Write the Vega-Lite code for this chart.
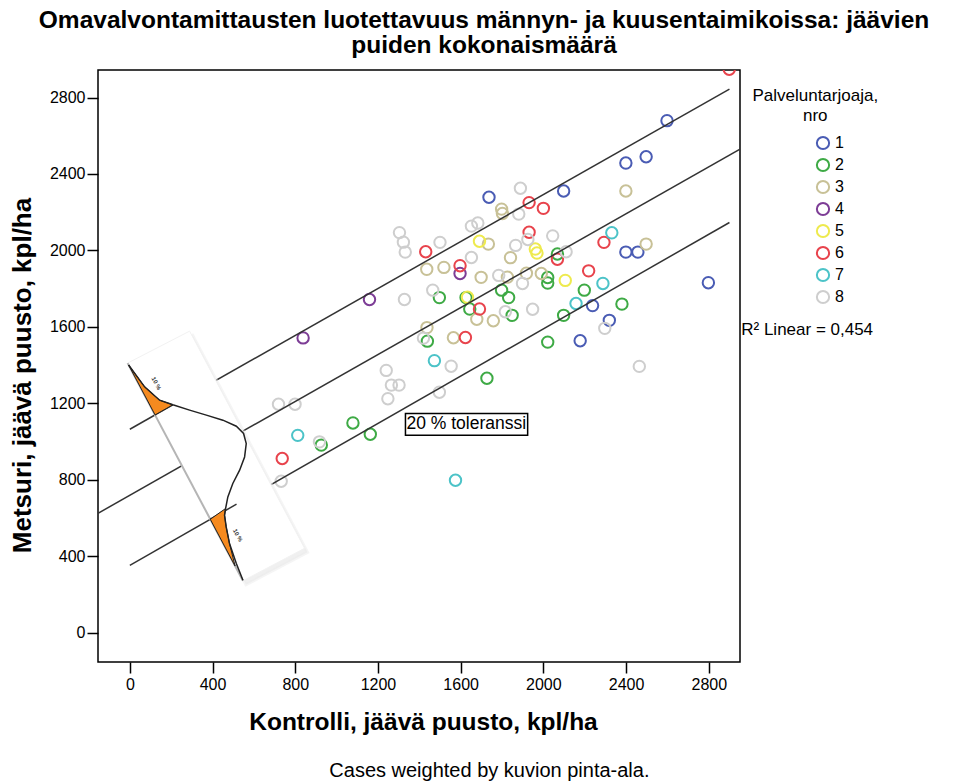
{
  "$schema": "https://vega.github.io/schema/vega-lite/v6.json",
  "width": 642,
  "height": 592,
  "autosize": {"type": "none"},
  "padding": {"left": 98, "top": 70, "right": 223, "bottom": 120},
  "background": "white",
  "config": {
    "font": "Liberation Sans",
    "view": {"stroke": "black", "strokeWidth": 1.5},
    "axis": {
      "grid": false, "domain": false,
      "tickColor": "black", "tickWidth": 1.5,
      "labelColor": "black", "labelFont": "Liberation Sans", "labelFontSize": 16,
      "titleFont": "Liberation Sans", "titleFontWeight": "bold", "titleColor": "black"
    }
  },
  "title": {
    "text": ["Omavalvontamittausten luotettavuus männyn- ja kuusentaimikoissa: jäävien", "puiden kokonaismäärä"],
    "font": "Liberation Sans", "fontSize": 24.5, "fontWeight": "bold", "color": "black",
    "anchor": "middle", "dx": 65, "offset": 12, "lineHeight": 25
  },
  "datasets": {
    "points": [
      {"x": 2598, "y": 2679, "nro": 1}, {"x": 2399, "y": 2457, "nro": 1}, {"x": 2497, "y": 2490, "nro": 1},
      {"x": 2098, "y": 2311, "nro": 1}, {"x": 1737, "y": 2278, "nro": 1}, {"x": 2399, "y": 1991, "nro": 1},
      {"x": 2457, "y": 1991, "nro": 1}, {"x": 2798, "y": 1831, "nro": 1}, {"x": 2238, "y": 1711, "nro": 1},
      {"x": 2319, "y": 1634, "nro": 1}, {"x": 2178, "y": 1527, "nro": 1},
      {"x": 2068, "y": 1981, "nro": 2}, {"x": 2021, "y": 1858, "nro": 2}, {"x": 2021, "y": 1829, "nro": 2},
      {"x": 2198, "y": 1792, "nro": 2}, {"x": 1497, "y": 1753, "nro": 2}, {"x": 1626, "y": 1753, "nro": 2},
      {"x": 1798, "y": 1792, "nro": 2}, {"x": 1832, "y": 1753, "nro": 2}, {"x": 1644, "y": 1693, "nro": 2},
      {"x": 1849, "y": 1660, "nro": 2}, {"x": 2098, "y": 1660, "nro": 2}, {"x": 2380, "y": 1719, "nro": 2},
      {"x": 2021, "y": 1520, "nro": 2}, {"x": 1727, "y": 1331, "nro": 2}, {"x": 1439, "y": 1525, "nro": 2},
      {"x": 1079, "y": 1097, "nro": 2}, {"x": 1163, "y": 1038, "nro": 2}, {"x": 926, "y": 981, "nro": 2},
      {"x": 2399, "y": 2311, "nro": 3}, {"x": 1798, "y": 2216, "nro": 3}, {"x": 1802, "y": 2193, "nro": 3},
      {"x": 1734, "y": 2033, "nro": 3}, {"x": 2497, "y": 2033, "nro": 3}, {"x": 1841, "y": 1962, "nro": 3},
      {"x": 1436, "y": 1901, "nro": 3}, {"x": 1519, "y": 1911, "nro": 3}, {"x": 1699, "y": 1859, "nro": 3},
      {"x": 1826, "y": 1860, "nro": 3}, {"x": 1918, "y": 1880, "nro": 3}, {"x": 1990, "y": 1879, "nro": 3},
      {"x": 1678, "y": 1640, "nro": 3}, {"x": 1758, "y": 1632, "nro": 3}, {"x": 1565, "y": 1543, "nro": 3},
      {"x": 1437, "y": 1596, "nro": 3},
      {"x": 1597, "y": 1879, "nro": 4}, {"x": 1159, "y": 1743, "nro": 4}, {"x": 838, "y": 1542, "nro": 4},
      {"x": 1691, "y": 2048, "nro": 5}, {"x": 1961, "y": 2007, "nro": 5}, {"x": 1969, "y": 1986, "nro": 5},
      {"x": 2106, "y": 1843, "nro": 5}, {"x": 1633, "y": 1755, "nro": 5},
      {"x": 2899, "y": 2948, "nro": 6}, {"x": 1931, "y": 2250, "nro": 6}, {"x": 2000, "y": 2220, "nro": 6},
      {"x": 1431, "y": 1993, "nro": 6}, {"x": 1931, "y": 2095, "nro": 6}, {"x": 2293, "y": 2042, "nro": 6},
      {"x": 2068, "y": 1954, "nro": 6}, {"x": 1597, "y": 1920, "nro": 6}, {"x": 2219, "y": 1893, "nro": 6},
      {"x": 1691, "y": 1693, "nro": 6}, {"x": 1623, "y": 1544, "nro": 6}, {"x": 737, "y": 911, "nro": 6},
      {"x": 2331, "y": 2092, "nro": 7}, {"x": 2288, "y": 1827, "nro": 7}, {"x": 2158, "y": 1722, "nro": 7},
      {"x": 1473, "y": 1423, "nro": 7}, {"x": 812, "y": 1032, "nro": 7}, {"x": 1575, "y": 797, "nro": 7},
      {"x": 1889, "y": 2325, "nro": 8}, {"x": 1881, "y": 2190, "nro": 8}, {"x": 1652, "y": 2127, "nro": 8},
      {"x": 1683, "y": 2143, "nro": 8}, {"x": 1304, "y": 2093, "nro": 8}, {"x": 1323, "y": 2043, "nro": 8},
      {"x": 1332, "y": 1991, "nro": 8}, {"x": 1500, "y": 2042, "nro": 8}, {"x": 2045, "y": 2076, "nro": 8},
      {"x": 1866, "y": 2026, "nro": 8}, {"x": 1925, "y": 2057, "nro": 8}, {"x": 2110, "y": 1993, "nro": 8},
      {"x": 1652, "y": 1963, "nro": 8}, {"x": 1784, "y": 1869, "nro": 8}, {"x": 1899, "y": 1827, "nro": 8},
      {"x": 1328, "y": 1743, "nro": 8}, {"x": 1465, "y": 1792, "nro": 8}, {"x": 1816, "y": 1679, "nro": 8},
      {"x": 1948, "y": 1692, "nro": 8}, {"x": 2297, "y": 1592, "nro": 8}, {"x": 1554, "y": 1394, "nro": 8},
      {"x": 1240, "y": 1372, "nro": 8}, {"x": 1265, "y": 1295, "nro": 8}, {"x": 1302, "y": 1295, "nro": 8},
      {"x": 1248, "y": 1224, "nro": 8}, {"x": 1497, "y": 1258, "nro": 8}, {"x": 719, "y": 1195, "nro": 8},
      {"x": 799, "y": 1195, "nro": 8}, {"x": 917, "y": 998, "nro": 8}, {"x": 732, "y": 792, "nro": 8},
      {"x": 2464, "y": 1393, "nro": 8}, {"x": 1420, "y": 1541, "nro": 8}
    ],
    "lines": [
      {"line": "upper", "x": 0, "y": 1064}, {"line": "upper", "x": 2900, "y": 2844},
      {"line": "fit", "x": -154, "y": 624}, {"line": "fit", "x": 2951, "y": 2530},
      {"line": "lower", "x": 0, "y": 352}, {"line": "lower", "x": 2900, "y": 2146}
    ],
    "shadow": [
      {"i": 0, "x": 3.5, "y": 1389}, {"i": 1, "x": 303.5, "y": 1556.5}, {"i": 2, "x": 859.5, "y": 420},
      {"i": 3, "x": 561.5, "y": 250}, {"i": 4, "x": 3.5, "y": 1389}
    ],
    "panel": [
      {"i": 0, "x": -11, "y": 1410}, {"i": 1, "x": 289, "y": 1577.5}, {"i": 2, "x": 845, "y": 441},
      {"i": 3, "x": 547, "y": 271}, {"i": 4, "x": -11, "y": 1410}
    ],
    "stubs": [
      {"seg": "upper", "x": 122, "y": 1139}, {"seg": "upper", "x": 208, "y": 1192},
      {"seg": "lower", "x": 389, "y": 593}, {"seg": "lower", "x": 516, "y": 672}
    ],
    "densityAxis": [{"x": -11, "y": 1410}, {"x": 547, "y": 271}],
    "tails": [
      {"tail": "top", "i": 0, "x": -6, "y": 1400}, {"tail": "top", "i": 1, "x": 71.5, "y": 1286},
      {"tail": "top", "i": 2, "x": 144, "y": 1216}, {"tail": "top", "i": 3, "x": 208, "y": 1192},
      {"tail": "top", "i": 4, "x": 122, "y": 1139}, {"tail": "top", "i": 5, "x": -6, "y": 1400},
      {"tail": "bottom", "i": 0, "x": 389, "y": 593}, {"tail": "bottom", "i": 1, "x": 463, "y": 649},
      {"tail": "bottom", "i": 2, "x": 458, "y": 614}, {"tail": "bottom", "i": 3, "x": 466, "y": 553},
      {"tail": "bottom", "i": 4, "x": 482, "y": 466}, {"tail": "bottom", "i": 5, "x": 509, "y": 348},
      {"tail": "bottom", "i": 6, "x": 389, "y": 593}
    ],
    "curve": [
      {"i": 0, "x": -6, "y": 1400}, {"i": 1, "x": 71.5, "y": 1286}, {"i": 2, "x": 144, "y": 1216},
      {"i": 3, "x": 208, "y": 1192}, {"i": 4, "x": 289, "y": 1164}, {"i": 5, "x": 370, "y": 1138},
      {"i": 6, "x": 450, "y": 1111.5}, {"i": 7, "x": 515, "y": 1080}, {"i": 8, "x": 550, "y": 1042},
      {"i": 9, "x": 563, "y": 989.5}, {"i": 10, "x": 555, "y": 919}, {"i": 11, "x": 531, "y": 850},
      {"i": 12, "x": 498, "y": 780}, {"i": 13, "x": 474, "y": 710}, {"i": 14, "x": 463, "y": 649},
      {"i": 15, "x": 458, "y": 614}, {"i": 16, "x": 466, "y": 553}, {"i": 17, "x": 482, "y": 466},
      {"i": 18, "x": 515, "y": 361}, {"i": 19, "x": 547, "y": 274}
    ],
    "tailLabels": [{"x": 128, "y": 1304, "label": "10 %"}, {"x": 522, "y": 509, "label": "10 %"}],
    "box": [{"x": 1333, "x2": 1924, "y": 1033, "y2": 1147}],
    "boxLabel": [{"x": 1338, "y": 1090, "label": "20 % toleranssi"}],
    "legendTitle": [{"x": 3315, "y": 2808, "label": "Palveluntarjoaja,"}, {"x": 3315, "y": 2703, "label": "nro"}],
    "fitNote": [{"x": 2957, "y": 1583, "label": "R² Linear = 0,454"}],
    "footer": [{"x": 1739, "y": -726, "label": "Cases weighted by kuvion pinta-ala."}]
  },
  "encoding": {
    "x": {
      "field": "x", "type": "quantitative",
      "scale": {"domain": [-154, 2951], "nice": false, "zero": false},
      "axis": {
        "values": [0, 400, 800, 1200, 1600, 2000, 2400, 2800], "format": "d",
        "title": "Kontrolli, jäävä puusto, kpl/ha", "titleFontSize": 24.5,
        "tickSize": 11, "labelPadding": 3,
        "titleX": 325, "titleY": 60, "titleAlign": "center", "titleBaseline": "middle"
      }
    },
    "y": {
      "field": "y", "type": "quantitative",
      "scale": {"domain": [-154, 2944], "nice": false, "zero": false},
      "axis": {
        "values": [0, 400, 800, 1200, 1600, 2000, 2400, 2800], "format": "d",
        "title": "Metsuri, jäävä puusto, kpl/ha", "titleFontSize": 26,
        "tickSize": 11, "labelPadding": 2,
        "titleX": -76, "titleY": 305, "titleAngle": -90, "titleAlign": "center", "titleBaseline": "middle"
      }
    }
  },
  "layer": [
    {
      "data": {"name": "points"},
      "mark": {"type": "point", "shape": "circle", "filled": false, "size": 130, "strokeWidth": 2, "opacity": 1, "clip": true},
      "encoding": {
        "color": {
          "field": "nro", "type": "nominal",
          "scale": {"domain": [1, 2, 3, 4, 5, 6, 7, 8], "range": ["#4a5cb4", "#3eaa45", "#c8c197", "#7d3d96", "#eeea4e", "#e8434c", "#4cc3c8", "#cecece"]},
          "legend": {
            "title": null, "orient": "none", "legendX": 717, "legendY": 65,
            "symbolType": "circle", "symbolSize": 150, "symbolStrokeWidth": 2,
            "labelFont": "Liberation Sans", "labelFontSize": 16, "labelColor": "black",
            "rowPadding": 0, "labelOffset": 4
          }
        }
      }
    },
    {
      "data": {"name": "lines"},
      "mark": {"type": "line", "color": "#333333", "strokeWidth": 1.5, "clip": true},
      "encoding": {"detail": {"field": "line"}}
    },
    {
      "data": {"name": "shadow"},
      "mark": {"type": "line", "fill": "#e6e6e6", "fillOpacity": 0.6, "stroke": "#ececec", "strokeWidth": 3, "strokeOpacity": 0.5},
      "encoding": {"order": {"field": "i", "type": "quantitative"}}
    },
    {
      "data": {"name": "panel"},
      "mark": {"type": "line", "fill": "white", "stroke": "#f2f2f2", "strokeWidth": 1},
      "encoding": {"order": {"field": "i", "type": "quantitative"}}
    },
    {
      "data": {"name": "densityAxis"},
      "mark": {"type": "line", "color": "#b5b5b5", "strokeWidth": 2}
    },
    {
      "data": {"name": "stubs"},
      "mark": {"type": "line", "color": "#333333", "strokeWidth": 1.5},
      "encoding": {"detail": {"field": "seg"}}
    },
    {
      "data": {"name": "tails"},
      "mark": {"type": "line", "fill": "#f58a1f", "stroke": "#222222", "strokeWidth": 1},
      "encoding": {"detail": {"field": "tail"}, "order": {"field": "i", "type": "quantitative"}}
    },
    {
      "data": {"name": "curve"},
      "mark": {"type": "line", "color": "#222222", "strokeWidth": 1.5},
      "encoding": {"order": {"field": "i", "type": "quantitative"}}
    },
    {
      "data": {"name": "tailLabels"},
      "mark": {"type": "text", "fontSize": 6, "fontWeight": "bold", "angle": 62, "color": "#333333"},
      "encoding": {"text": {"field": "label"}}
    },
    {
      "data": {"name": "box"},
      "mark": {"type": "rect", "fill": "white", "stroke": "black", "strokeWidth": 1.5},
      "encoding": {"x2": {"field": "x2"}, "y2": {"field": "y2"}}
    },
    {
      "data": {"name": "boxLabel"},
      "mark": {"type": "text", "fontSize": 17.5, "align": "left", "baseline": "middle", "color": "black"},
      "encoding": {"text": {"field": "label"}}
    },
    {
      "data": {"name": "legendTitle"},
      "mark": {"type": "text", "fontSize": 17, "align": "center", "baseline": "middle", "color": "black"},
      "encoding": {"text": {"field": "label"}}
    },
    {
      "data": {"name": "fitNote"},
      "mark": {"type": "text", "fontSize": 17, "align": "left", "baseline": "middle", "color": "black"},
      "encoding": {"text": {"field": "label"}}
    },
    {
      "data": {"name": "footer"},
      "mark": {"type": "text", "fontSize": 20, "align": "center", "baseline": "middle", "color": "black"},
      "encoding": {"text": {"field": "label"}}
    }
  ]
}
